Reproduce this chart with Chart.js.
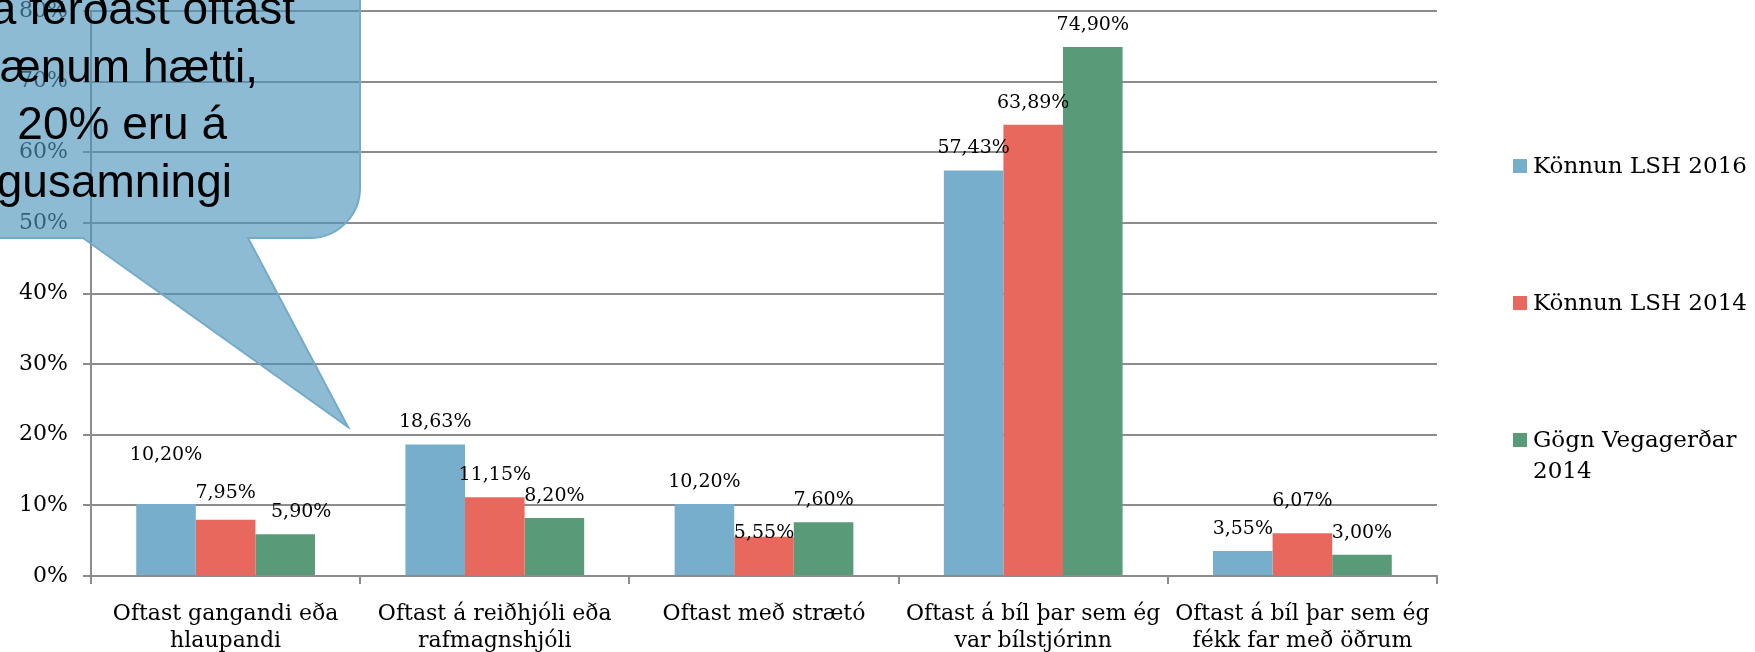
<!DOCTYPE html>
<html>
<head>
<meta charset="utf-8">
<script src="https://cdn.jsdelivr.net/npm/chart.js@4.4.1/dist/chart.umd.min.js"></script>
<style>
html,body{margin:0;padding:0;background:#fff;}
#wrap{width:1755px;height:652px;}
</style>
</head>
<body>
<div id="wrap"><canvas id="chart" width="1755" height="652"></canvas></div>
<script>
/* -------- DATA -------- */

const categories = [
["Oftast gangandi eða","hlaupandi"],
["Oftast á reiðhjóli eða","rafmagnshjóli"],
["Oftast með strætó"],
["Oftast á bíl þar sem ég","var bílstjórinn"],
["Oftast á bíl þar sem ég","fékk far með öðrum"]
];

const seriesNames = ["Könnun LSH 2016","Könnun LSH 2014","Gögn Vegagerðar 2014"];

const lsh2016 = [10.20,18.63,10.20,57.43,3.55];
const lsh2014 = [7.95,11.15,5.55,63.89,6.07];
const vegagerd2014 = [5.90,8.20,7.60,74.90,3.00];

const yMin = 0;
const yMax = 80;
const yStep = 10;

const calloutLines = ["starfsmanna ferðast oftast","á vistvænum hætti,","20% eru á","samgöngusamningi"];

/* -------- STYLE -------- */

const colors = ["#77aecb","#e8685d","#599b78"];
const serif = "'DejaVu Serif', Georgia, serif";
const gridColor = "#8c8c8c";

// small nudges for data labels that sit off their usual spot (dataset-category)
const labelNudge = {
"0-0":[0,-27],
"1-0":[0,-5],
"2-0":[16,0],
"1-2":[0,18],
"1-4":[0,-10]
};

function fmt(v){
return v.toFixed(2).replace(".",",")+"%";
}

/* -------- PLUGINS -------- */

const dataLabels = {
id:"dataLabels",
afterDatasetsDraw(chart){
const c = chart.ctx;
c.save();
c.font = "19px "+serif;
c.fillStyle = "#000";
c.textAlign = "center";
c.textBaseline = "middle";
chart.data.datasets.forEach((ds,i)=>{
chart.getDatasetMeta(i).data.forEach((bar,j)=>{
const n = labelNudge[i+"-"+j] || [0,0];
c.fillText(fmt(ds.data[j]), bar.x+n[0], bar.y-22+n[1]);
});
});
c.restore();
}
};

const sideLegend = {
id:"sideLegend",
afterDraw(chart){
const c = chart.ctx;
c.save();
c.font = "23px "+serif;
c.textBaseline = "alphabetic";
const x0 = 1513, tx = 1533, maxW = 1755-tx;
chart.data.datasets.forEach((ds,i)=>{
const cy = 166 + i*137;
c.fillStyle = ds.backgroundColor;
c.fillRect(x0, cy-7, 14, 14);
c.fillStyle = "#000";
// simple word wrap
let words = ds.label.split(" "), line = "", lines = [];
words.forEach(w=>{
const t = line ? line+" "+w : w;
if(c.measureText(t).width > maxW && line){ lines.push(line); line = w; }
else line = t;
});
lines.push(line);
lines.forEach((l,k)=>c.fillText(l, tx, cy+7+k*31));
});
c.restore();
}
};

const callout = {
id:"callout",
afterDraw(chart){
const c = chart.ctx;
const R = 360, B = 238, r = 50;
c.save();
c.beginPath();
c.moveTo(83,B);
c.lineTo(348,427);
c.lineTo(248,B);
c.lineTo(R-r,B);
c.arcTo(R,B,R,B-r,r);
c.lineTo(R,-50);
c.lineTo(-50,-50);
c.lineTo(-50,B);
c.closePath();
c.fillStyle = "rgba(76,148,188,0.64)";
c.fill();
c.strokeStyle = "#74abc9";
c.lineWidth = 2;
c.stroke();

c.font = "46px 'Liberation Sans', Arial, sans-serif";
c.fillStyle = "#000";
c.textAlign = "right";
c.textBaseline = "alphabetic";
const ends = [295,258,227,232];
calloutLines.forEach((l,i)=>c.fillText(l, ends[i], 24+i*57.6));
c.restore();
}
};

/* -------- CHART -------- */

const ctx = document.getElementById("chart").getContext("2d");

new Chart(ctx,{
type:"bar",
data:{
labels:categories,
datasets:[
{label:seriesNames[0],data:lsh2016,backgroundColor:colors[0]},
{label:seriesNames[1],data:lsh2014,backgroundColor:colors[1]},
{label:seriesNames[2],data:vegagerd2014,backgroundColor:colors[2]}
]
},
options:{
responsive:false,
animation:false,
devicePixelRatio:1,
categoryPercentage:0.664,
barPercentage:1,
layout:{padding:{top:11,right:318,bottom:0,left:0}},
plugins:{
legend:{display:false},
tooltip:{enabled:false}
},
scales:{
x:{
grid:{display:true,drawOnChartArea:false,drawTicks:true,tickLength:8,color:gridColor,lineWidth:2,offset:true},
border:{display:true,color:gridColor,width:2},
ticks:{color:"#000",font:{family:serif,size:22,lineHeight:1.23},padding:17,maxRotation:0,autoSkip:false},
afterFit(s){ s.height = 76; s.paddingLeft = 0; s.paddingRight = 0; }
},
y:{
min:yMin,
max:yMax,
grid:{color:gridColor,lineWidth:2,tickLength:8},
border:{display:true,color:gridColor,width:2},
ticks:{stepSize:yStep,color:"#000",font:{family:serif,size:22},padding:15,callback:v=>v+"%"},
afterFit(s){ s.width = 91; s.paddingTop = 0; s.paddingBottom = 0; }
}
}
},
plugins:[dataLabels,sideLegend,callout]
});
</script>
</body>
</html>
